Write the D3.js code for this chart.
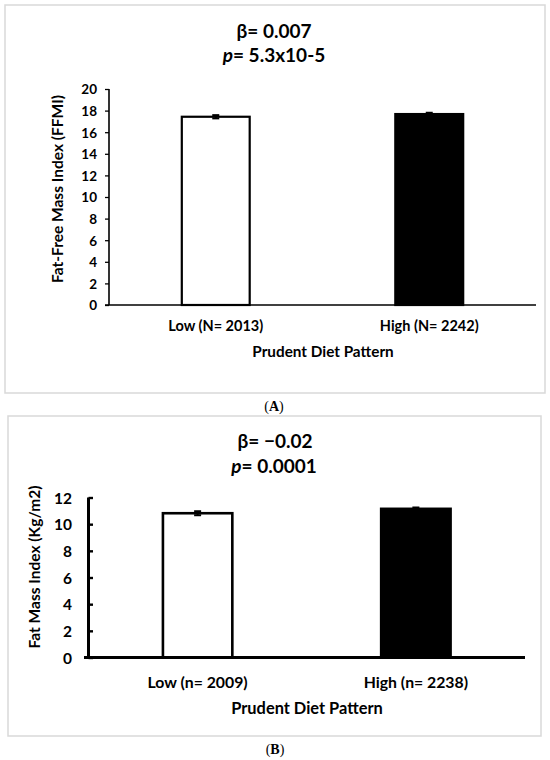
<!DOCTYPE html>
<html>
<head>
<meta charset="utf-8">
<script src="https://cdn.jsdelivr.net/npm/d3@7"></script>
<style>
  html, body { margin: 0; padding: 0; background: #fff; }
  svg text { font-family: Lato, "Open Sans", sans-serif; font-weight: bold; fill: #000; }
</style>
</head>
<body>
<svg id="chart" width="550" height="760"></svg>
<script>
// ---- Data ----
const categoriesA = ["Low (N= 2013)", "High (N= 2242)"];
const valuesA = [17.43, 17.68];
const errorsA = [0.15, 0.12];
const ticksA = [0, 2, 4, 6, 8, 10, 12, 14, 16, 18, 20];
const fillsA = ["#ffffff", "#000000"];

const categoriesB = ["Low (n= 2009)", "High (n= 2238)"];
const valuesB = [10.82, 11.15];
const errorsB = [0.15, 0.1];
const ticksB = [0, 2, 4, 6, 8, 10, 12];
const fillsB = ["#ffffff", "#000000"];

const svg = d3.select("#chart");

function panel(cfg) {
  const g = svg.append("g");
  g.append("rect")
    .attr("x", cfg.box[0]).attr("y", cfg.box[1])
    .attr("width", cfg.box[2] - cfg.box[0]).attr("height", cfg.box[3] - cfg.box[1])
    .attr("fill", "#fff").attr("stroke", "#d9d9d9").attr("stroke-width", 1.5);

  const y = d3.scaleLinear().domain([0, cfg.ymax]).range([cfg.y0, cfg.y1]);
  const x = d3.scaleBand().domain(cfg.cats).range([cfg.x0, cfg.x1]).padding(0);
  const bw = x.step() * cfg.barFrac;

  g.selectAll("rect.bar").data(cfg.vals).enter().append("rect")
    .attr("class", "bar")
    .attr("x", (d, i) => x(cfg.cats[i]) + x.bandwidth() / 2 - bw / 2)
    .attr("y", d => y(d))
    .attr("width", bw)
    .attr("height", d => y(0) - y(d))
    .attr("fill", (d, i) => cfg.fills[i])
    .attr("stroke", "#000").attr("stroke-width", cfg.barStroke);

  cfg.vals.forEach((v, i) => {
    const cx = x(cfg.cats[i]) + x.bandwidth() / 2;
    g.append("line")
      .attr("x1", cx).attr("x2", cx)
      .attr("y1", y(v - cfg.errs[i])).attr("y2", y(v + cfg.errs[i]))
      .attr("stroke", "#000").attr("stroke-width", 2);
    [v + cfg.errs[i], v - cfg.errs[i]].forEach(e => {
      g.append("line")
        .attr("x1", cx - 3.5).attr("x2", cx + 3.5)
        .attr("y1", y(e)).attr("y2", y(e))
        .attr("stroke", "#000").attr("stroke-width", 2);
    });
  });

  const yAxis = (cfg.tickInside ? d3.axisRight(y) : d3.axisLeft(y))
    .tickValues(cfg.ticks).tickSize(cfg.tickLen).tickFormat(d3.format("d"));
  const ya = g.append("g").attr("transform", `translate(${cfg.x0},0)`).call(yAxis);
  ya.select(".domain").remove();
  ya.selectAll(".tick line").attr("stroke", "#000").attr("stroke-width", cfg.axisStroke * 0.8);
  ya.selectAll(".tick text")
    .attr("x", -(cfg.x0 - cfg.tickLabelRight))
    .attr("text-anchor", "end")
    .attr("dy", "0.36em")
    .style("font-size", cfg.tickFont + "px");
  g.append("line")
    .attr("x1", cfg.x0).attr("x2", cfg.x0)
    .attr("y1", y(cfg.ymax)).attr("y2", y(0))
    .attr("stroke", "#000").attr("stroke-width", cfg.axisStroke);

  g.append("line")
    .attr("x1", cfg.xAxisStart).attr("x2", cfg.x1)
    .attr("y1", y(0)).attr("y2", y(0))
    .attr("stroke", "#000").attr("stroke-width", cfg.axisStroke);

  g.selectAll("text.cat").data(cfg.cats).enter().append("text")
    .attr("class", "cat")
    .attr("x", d => x(d) + x.bandwidth() / 2)
    .attr("y", cfg.catY)
    .attr("text-anchor", "middle").attr("dy", "0.35em")
    .style("font-size", cfg.catFont + "px")
    .text(d => d);

  g.append("text")
    .attr("x", cfg.xTitle[0]).attr("y", cfg.xTitle[1])
    .attr("text-anchor", "middle").attr("dy", "0.35em")
    .style("font-size", cfg.xTitleFont + "px")
    .text(cfg.xTitleText);

  g.append("text")
    .attr("transform", `translate(${cfg.yTitle[0]},${cfg.yTitle[1]}) rotate(-90)`)
    .attr("text-anchor", "middle").attr("dy", "0.35em")
    .style("font-size", cfg.yTitleFont + "px")
    .text(cfg.yTitleText);

  g.append("text")
    .attr("x", cfg.beta[0]).attr("y", cfg.beta[1])
    .attr("text-anchor", "middle").attr("dy", "0.35em")
    .style("font-size", cfg.statFont + "px")
    .text(cfg.betaText);
  const pt = g.append("text")
    .attr("x", cfg.pv[0]).attr("y", cfg.pv[1])
    .attr("text-anchor", "middle").attr("dy", "0.35em")
    .style("font-size", cfg.statFont + "px");
  pt.append("tspan").style("font-style", "italic").text("p");
  pt.append("tspan").text(cfg.pText);

  const cap = svg.append("text")
    .attr("x", cfg.cap[0]).attr("y", cfg.cap[1])
    .attr("text-anchor", "middle").attr("dy", "0.35em")
    .style("font-family", "'Liberation Serif', 'DejaVu Serif', serif")
    .style("font-weight", "normal")
    .style("font-size", "14px");
  cap.append("tspan").text("(");
  cap.append("tspan").style("font-weight", "bold").text(cfg.capLetter);
  cap.append("tspan").text(")");
}

panel({
  box: [5, 5, 545, 393],
  cats: categoriesA, vals: valuesA, errs: errorsA, fills: fillsA, ticks: ticksA,
  ymax: 20, y0: 305, y1: 89, x0: 109, x1: 536, xAxisStart: 105,
  barFrac: 0.318, barStroke: 2.2, axisStroke: 1.6,
  tickInside: false, tickLen: 4, tickLabelRight: 97, tickFont: 13.5,
  catY: 326, catFont: 14.5,
  xTitle: [323, 352], xTitleFont: 15.3, xTitleText: "Prudent Diet Pattern",
  yTitle: [58, 189], yTitleFont: 15.5, yTitleText: "Fat-Free Mass Index (FFMI)",
  beta: [274, 31], pv: [274, 55], statFont: 19,
  betaText: "β= 0.007", pText: "= 5.3x10-5",
  cap: [274, 406], capLetter: "A"
});

panel({
  box: [8, 416, 541, 736],
  cats: categoriesB, vals: valuesB, errs: errorsB, fills: fillsB, ticks: ticksB,
  ymax: 12, y0: 657.5, y1: 497.5, x0: 88.5, x1: 525, xAxisStart: 84,
  barFrac: 0.318, barStroke: 2.6, axisStroke: 3,
  tickInside: true, tickLen: 4.5, tickLabelRight: 72, tickFont: 15.5,
  catY: 682, catFont: 15.8,
  xTitle: [307, 708], xTitleFont: 16.4, xTitleText: "Prudent Diet Pattern",
  yTitle: [35, 567], yTitleFont: 15.5, yTitleText: "Fat Mass Index (Kg/m2)",
  beta: [275, 441], pv: [274, 466], statFont: 19,
  betaText: "β= −0.02", pText: "= 0.0001",
  cap: [275, 749], capLetter: "B"
});
</script>
</body>
</html>
